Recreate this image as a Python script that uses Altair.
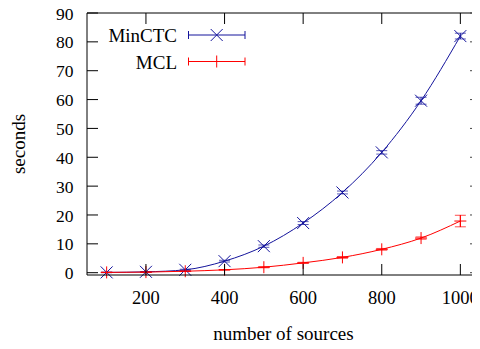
import altair as alt
import pandas as pd

# ---- data ----
sources = [100, 200, 300, 400, 500, 600, 700, 800, 900, 1000]
minctc = [0.1, 0.3, 1.0, 4.0, 9.2, 17.2, 27.8, 41.7, 59.6, 82.0]
minctc_err = [0.1, 0.1, 0.2, 0.3, 0.4, 0.5, 0.5, 0.6, 1.2, 1.0]
mcl = [0.1, 0.2, 0.5, 1.0, 1.9, 3.4, 5.3, 8.1, 12.0, 17.9]
mcl_err = [0.05, 0.05, 0.1, 0.1, 0.2, 0.2, 0.3, 0.3, 0.4, 2.0]
series_names = ["MinCTC", "MCL"]
series_colors = ["#14149c", "#ff0000"]
x_ticks = [200, 400, 600, 800, 1000]
y_ticks = [0, 10, 20, 30, 40, 50, 60, 70, 80, 90]
x_title = ["number of sources"]
y_title = ["seconds"]

PXU = 0.393          # pixels per x unit in the reference
W, H = 385, 262
X0 = 50
X1 = X0 + W / PXU    # reference frame continues just past the crop
FONT = "Liberation Serif"
X_PATH = "M-1,-1L1,1M-1,1L1,-1"
PLUS_PATH = "M-1,0L1,0M0,-1L0,1"

rows = []
for name, vals, errs in [("MinCTC", minctc, minctc_err), ("MCL", mcl, mcl_err)]:
    for s, v, e in zip(sources, vals, errs):
        rows.append({"sources": s, "seconds": v, "lo": v - e, "hi": v + e, "series": name})
df = pd.DataFrame(rows)

xscale = alt.Scale(domain=[X0, X1], nice=False, zero=False)
yscale = alt.Scale(domain=[-0.8, 90], nice=False, zero=False)
color = alt.Color("series:N", scale=alt.Scale(domain=series_names, range=series_colors), legend=None)

base = alt.Chart(df)

line = base.mark_line(interpolate="monotone", strokeWidth=1).encode(
    x=alt.X("sources:Q", scale=xscale, axis=None),
    y=alt.Y("seconds:Q", scale=yscale, axis=None),
    color=color,
)
pts = base.mark_point(filled=False, strokeWidth=1, size=144, opacity=1).encode(
    x=alt.X("sources:Q", scale=xscale, axis=None),
    y=alt.Y("seconds:Q", scale=yscale, axis=None),
    color=color,
    shape=alt.Shape("series:N", scale=alt.Scale(domain=series_names, range=[X_PATH, PLUS_PATH]), legend=None),
)
err = base.mark_rule(strokeWidth=1).encode(
    x=alt.X("sources:Q", scale=xscale, axis=None),
    y=alt.Y("lo:Q", scale=yscale, axis=None),
    y2="hi:Q",
    color=color,
)
cap_lo = base.mark_tick(orient="horizontal", size=11, thickness=1).encode(
    x=alt.X("sources:Q", scale=xscale, axis=None), y=alt.Y("lo:Q", scale=yscale, axis=None), color=color)
cap_hi = base.mark_tick(orient="horizontal", size=11, thickness=1).encode(
    x=alt.X("sources:Q", scale=xscale, axis=None), y=alt.Y("hi:Q", scale=yscale, axis=None), color=color)

# frame (left, top, bottom); the right side lies beyond the crop in the reference
frame_df = alt.Chart(pd.DataFrame({"k": [0]}))
frame_l = frame_df.mark_rule(color="black", strokeWidth=1).encode(
    x=alt.value(0), y=alt.value(0), y2=alt.value(H))
frame_t = frame_df.mark_rule(color="black", strokeWidth=1).encode(
    x=alt.value(0), x2=alt.value(W), y=alt.value(0))
frame_b = frame_df.mark_rule(color="black", strokeWidth=1).encode(
    x=alt.value(0), x2=alt.value(W), y=alt.value(H))

# inward gnuplot-style ticks and their labels
TL = 11
xt = alt.Chart(pd.DataFrame({"t": x_ticks}))
yt = alt.Chart(pd.DataFrame({"t": y_ticks}))
tick_b = xt.mark_rule(color="black", strokeWidth=1).encode(
    x=alt.X("t:Q", scale=xscale, axis=None), y=alt.value(H - TL), y2=alt.value(H))
tick_t = xt.mark_rule(color="black", strokeWidth=1).encode(
    x=alt.X("t:Q", scale=xscale, axis=None), y=alt.value(0), y2=alt.value(TL))
tick_l = yt.mark_rule(color="black", strokeWidth=1).encode(
    y=alt.Y("t:Q", scale=yscale, axis=None), x=alt.value(0), x2=alt.value(TL))
tick_r = yt.mark_rule(color="#444444", strokeWidth=1).encode(
    y=alt.Y("t:Q", scale=yscale, axis=None), x=alt.value(W - 2), x2=alt.value(W))

lab_x = xt.mark_text(align="center", baseline="alphabetic", font=FONT, fontSize=18.5, color="black").encode(
    x=alt.X("t:Q", scale=xscale, axis=None), y=alt.value(H + 29), text=alt.Text("t:Q", format="d"))
lab_y = yt.mark_text(align="right", baseline="alphabetic", dy=6.6, font=FONT, fontSize=17.5, color="black").encode(
    y=alt.Y("t:Q", scale=yscale, axis=None), x=alt.value(-13.5), text=alt.Text("t:Q", format="d"))

title_x = alt.Chart(pd.DataFrame({"s": x_title})).mark_text(
    align="center", baseline="alphabetic", font=FONT, fontSize=19, color="black").encode(
    x=alt.value(196.5), y=alt.value(326.5), text="s:N")
title_y = alt.Chart(pd.DataFrame({"s": y_title})).mark_text(
    align="center", baseline="alphabetic", font=FONT, fontSize=19, color="black", angle=270).encode(
    x=alt.value(-62), y=alt.value(H / 2), text="s:N")

# manual legend (labels left of samples, gnuplot style)
layers_leg = []
for name, col, path, yy in [("MinCTC", series_colors[0], X_PATH, 22), ("MCL", series_colors[1], PLUS_PATH, 48.5)]:
    d = alt.Chart(pd.DataFrame({"series": [name]}))
    layers_leg.append(d.mark_text(align="right", baseline="middle", font=FONT, fontSize=19, color="black").encode(
        x=alt.value(90), y=alt.value(yy + 1), text="series:N"))
    layers_leg.append(d.mark_rule(color=col, strokeWidth=1).encode(
        x=alt.value(101.5), x2=alt.value(158), y=alt.value(yy)))
    layers_leg.append(d.mark_rule(color=col, strokeWidth=1).encode(
        x=alt.value(101.5), y=alt.value(yy - 4), y2=alt.value(yy + 4)))
    layers_leg.append(d.mark_rule(color=col, strokeWidth=1).encode(
        x=alt.value(158), y=alt.value(yy - 4), y2=alt.value(yy + 4)))
    layers_leg.append(d.mark_point(filled=False, strokeWidth=1, size=144, color=col, opacity=1).encode(
        x=alt.value(129.7), y=alt.value(yy), shape=alt.value(path)))

chart = alt.layer(
    line, err, cap_lo, cap_hi, pts, frame_l, frame_t, frame_b,
    tick_b, tick_t, tick_l, tick_r, lab_x, lab_y, title_x, title_y, *layers_leg
).properties(
    width=W, height=H,
    autosize=alt.AutoSizeParams(type="none"),
    padding={"left": 79, "top": 5, "right": 0, "bottom": 66},
    background="white",
).configure_view(
    stroke=None
)

chart.save("out.html", embed_options={"renderer": "svg", "actions": False})
